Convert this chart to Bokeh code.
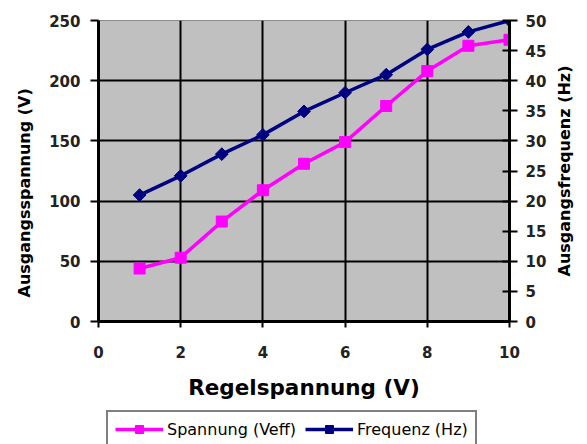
import math
from bokeh.plotting import figure
from bokeh.layouts import column, row
from bokeh.models import LinearAxis, Range1d, FixedTicker, Legend, LegendItem, Title
from bokeh.embed import file_html
from bokeh.resources import INLINE

# ---- data ----
regelspannung = [1, 2, 3, 4, 5, 6, 7, 8, 9, 10]
spannung_veff = [44, 53, 83, 109, 131, 149, 179, 208, 229, 234]
frequenz_hz = [21, 24.2, 27.8, 31, 34.9, 38, 41, 45.2, 48.1, 50]
x_ticks = [0, 2, 4, 6, 8, 10]
left_ticks = [0, 50, 100, 150, 200, 250]
right_ticks = [0, 5, 10, 15, 20, 25, 30, 35, 40, 45, 50]
series_labels = ["Spannung (Veff)", "Frequenz (Hz)"]

FONT = "DejaVu Sans"
PINK = "#FF00FF"
NAVY = "#000080"

def blank_fig(**kw):
    f = figure(output_backend="svg", toolbar_location=None,
               x_axis_location=None, y_axis_location=None, **kw)
    f.outline_line_color = None
    f.grid.visible = False
    f.background_fill_color = "white"
    f.border_fill_color = "white"
    return f

p = figure(width=505, height=405, output_backend="svg", toolbar_location=None,
           x_range=Range1d(0, 10), y_range=Range1d(0, 250),
           min_border_left=51, min_border_right=42, min_border_top=20,
           min_border_bottom=84)
p.border_fill_color = "white"
p.background_fill_color = "#C0C0C0"
p.outline_line_color = "#8c8c8c"
p.outline_line_width = 1

p.extra_y_ranges = {"freq": Range1d(0, 50)}

# grid
p.xgrid.ticker = FixedTicker(ticks=x_ticks)
p.ygrid.ticker = FixedTicker(ticks=left_ticks)
for g in (p.xgrid, p.ygrid):
    g.grid_line_color = "black"
    g.grid_line_width = 2

def style_axis(ax):
    ax.axis_line_color = "black"
    ax.axis_line_width = 3
    ax.major_tick_line_color = "black"
    ax.major_tick_line_width = 2
    ax.minor_tick_line_color = None
    ax.major_label_text_font = FONT
    ax.major_label_text_font_style = "bold"
    ax.major_label_text_font_size = "15px"
    ax.major_label_text_color = "#222222"
    ax.axis_label_text_font = FONT
    ax.axis_label_text_font_style = "bold"
    ax.axis_label_text_color = "black"

xa = p.xaxis[0]
style_axis(xa)
xa.ticker = FixedTicker(ticks=x_ticks)
xa.major_tick_out = 6
xa.major_tick_in = 0
xa.major_label_standoff = 18
xa.axis_label = "Regelspannung (V)"
xa.axis_label_text_font_size = "21.5px"
xa.axis_label_standoff = 14

ya = p.yaxis[0]
style_axis(ya)
ya.ticker = FixedTicker(ticks=left_ticks)
ya.major_tick_out = 8
ya.major_tick_in = 0
ya.major_label_standoff = 10

ra = LinearAxis(y_range_name="freq")
style_axis(ra)
ra.ticker = FixedTicker(ticks=right_ticks)
ra.major_tick_out = 8
ra.major_tick_in = 7
ra.major_label_standoff = 8
p.add_layout(ra, "right")

# series
p.line(regelspannung, spannung_veff, line_color=PINK, line_width=3.5)
p.scatter(regelspannung, spannung_veff, marker="square", size=11,
          fill_color=PINK, line_color=PINK)
p.line(regelspannung, frequenz_hz, line_color=NAVY, line_width=3.5,
       y_range_name="freq")
p.scatter(regelspannung, frequenz_hz, marker="square", size=9, angle=math.pi / 4,
          fill_color=NAVY, line_color=NAVY, y_range_name="freq")

# left axis title (bottom-to-top, a little below centre as in the original)
lt = blank_fig(width=46, height=405, min_border_left=34, min_border_right=0,
               min_border_top=20, min_border_bottom=84)
lt.add_layout(Title(text="Ausgangsspannung (V)", align="left", offset=24,
                    text_font=FONT, text_font_style="bold", text_font_size="16px",
                    text_color="black", standoff=2), "left")

# right axis title (bottom-to-top, centred)
rf = blank_fig(width=36, height=405, min_border_left=0, min_border_right=0,
               min_border_top=20, min_border_bottom=84)
rf.add_layout(Title(text="Ausgangsfrequenz (Hz)", align="center",
                    text_font=FONT, text_font_style="bold", text_font_size="16px",
                    text_color="black", standoff=2, offset=0), "left")

# legend strip under the chart
lf = blank_fig(width=587, height=39, min_border_left=97, min_border_right=0,
               min_border_top=0, min_border_bottom=0,
               x_range=Range1d(100, 101), y_range=Range1d(1000, 1001))
ll1 = lf.line(regelspannung, spannung_veff, line_color=PINK, line_width=3.5)
ls1 = lf.scatter(regelspannung, spannung_veff, marker="square", size=11,
                 fill_color=PINK, line_color=PINK)
ll2 = lf.line(regelspannung, frequenz_hz, line_color=NAVY, line_width=3.5)
ls2 = lf.scatter(regelspannung, frequenz_hz, marker="square", size=9,
                 angle=math.pi / 4, fill_color=NAVY, line_color=NAVY)

legend = Legend(items=[LegendItem(label=series_labels[0], renderers=[ll1, ls1]),
                       LegendItem(label=series_labels[1], renderers=[ll2, ls2])],
                orientation="horizontal", location=(9, -4))
legend.label_text_font = FONT
legend.label_text_font_size = "16px"
legend.label_text_color = "black"
legend.glyph_width = 48
legend.glyph_height = 20
legend.label_standoff = 4
legend.spacing = 9
legend.padding = 7
legend.margin = 0
legend.border_line_color = "black"
legend.border_line_width = 2
legend.background_fill_color = "white"
legend.background_fill_alpha = 1
lf.add_layout(legend, "center")

layout = column(row(lt, p, rf, spacing=0), lf, spacing=0)
open("out.html", "w").write(file_html(layout, INLINE))
